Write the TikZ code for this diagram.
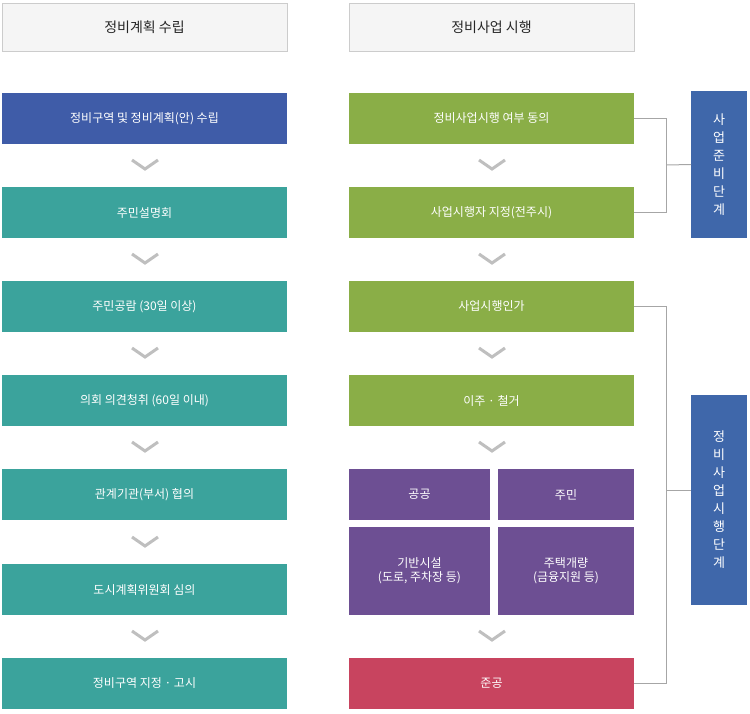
\documentclass[tikz,border=0pt]{standalone}
\usepackage{fontspec}
\setmainfont{Noto Sans CJK KR}
\begin{document}
\begin{tikzpicture}[x=1pt,y=-1pt,
 bx/.style={draw=none,text=white,font=\fontsize{12}{14}\selectfont,align=center,inner sep=0pt},
 hd/.style={draw=black!20,fill=black!4,text=black!85,font=\fontsize{14}{16}\selectfont},
 chev/.style={draw=black!25,line width=3pt},
 br/.style={draw=black!35,line width=1pt}]
\definecolor{cblue}{HTML}{3F5CA8}
\definecolor{cteal}{HTML}{3BA39C}
\definecolor{cgreen}{HTML}{8AAE47}
\definecolor{cpurp}{HTML}{6D4F93}
\definecolor{cred}{HTML}{C8445F}
\definecolor{cside}{HTML}{3F67AA}
\useasboundingbox (0,0) rectangle (750,713);
\newcommand{\bxx}[6]{\fill[#5] (#1,#2) rectangle (#3,#4); \node[bx] (#6) at ({(#1+#3)/2},{(#2+#4)/2}) {};}
% headers
\draw[hd] (2,3) rectangle (287,51); \node[text=black!85,font=\fontsize{14}{16}\selectfont] (h1) at (144.5,27) {정비계획 수립};
\draw[hd] (349,3) rectangle (634,51); \node[text=black!85,font=\fontsize{14}{16}\selectfont] (h2) at (491.5,27) {정비사업 시행};
% left column
\foreach \ya/\c/\t [count=\i] in {93/cblue/정비구역 및 정비계획(안) 수립,187/cteal/주민설명회,281/cteal/주민공람 (30일 이상),375/cteal/의회 의견청취 (60일 이내),469/cteal/관계기관(부서) 협의,564/cteal/도시계획위원회 심의,658/cteal/정비구역 지정 · 고시}{
 \fill[\c] (2,\ya) rectangle (287,\ya+51);
 \node[bx] (L\i) at (144.5,\ya+25.5) {\t};
}
\foreach \ya/\c/\t [count=\i] in {93/cgreen/정비사업시행 여부 동의,187/cgreen/사업시행자 지정(전주시),281/cgreen/사업시행인가,375/cgreen/이주 · 철거,658/cred/준공}{
 \fill[\c] (349,\ya) rectangle (634,\ya+51);
 \node[bx] (R\i) at (491.5,\ya+25.5) {\t};
}
\fill[cpurp] (349,469) rectangle (490,520); \node[bx] (p1) at (419.5,494.5) {공공};
\fill[cpurp] (498,469) rectangle (634,520); \node[bx] (p2) at (566,494.5) {주민};
\fill[cpurp] (349,527) rectangle (490,615); \node[bx] (p3) at (419.5,571) {기반시설\\(도로, 주차장 등)};
\fill[cpurp] (498,527) rectangle (634,615); \node[bx] (p4) at (566,571) {주택개량\\(금융지원 등)};
% chevrons
\foreach \y in {160,254,348,442,537,631}{
 \draw[chev] (132,\y) -- (145,\y+9) -- (158,\y);
}
\foreach \y in {160,254,348,442,631}{
 \draw[chev] (479,\y) -- (492,\y+9) -- (505,\y);
}
% side boxes
\fill[cside] (691,91) rectangle (747,238);
\node[bx,font=\fontsize{13}{18}\selectfont] (s1) at (719,164.5) {사\\업\\준\\비\\단\\계};
\fill[cside] (691,395) rectangle (747,605);
\node[bx,font=\fontsize{13}{18}\selectfont] (s2) at (719,500) {정\\비\\사\\업\\시\\행\\단\\계};
% brackets
\coordinate (a1) at (666,118.5); \coordinate (a2) at (666,212.5);
\draw[br] (634,118.5) -- (a1) -- (a2) -- (634,212.5);
\draw[br] (666,165) -- (s1.west -| 691,165);
\coordinate (b1) at (666,306.5); \coordinate (b2) at (666,683.5);
\draw[br] (634,306.5) -- (b1) -- (b2) -- (634,683.5);
\draw[br] (666,490) -- (691,490);
\end{tikzpicture}
\end{document}
